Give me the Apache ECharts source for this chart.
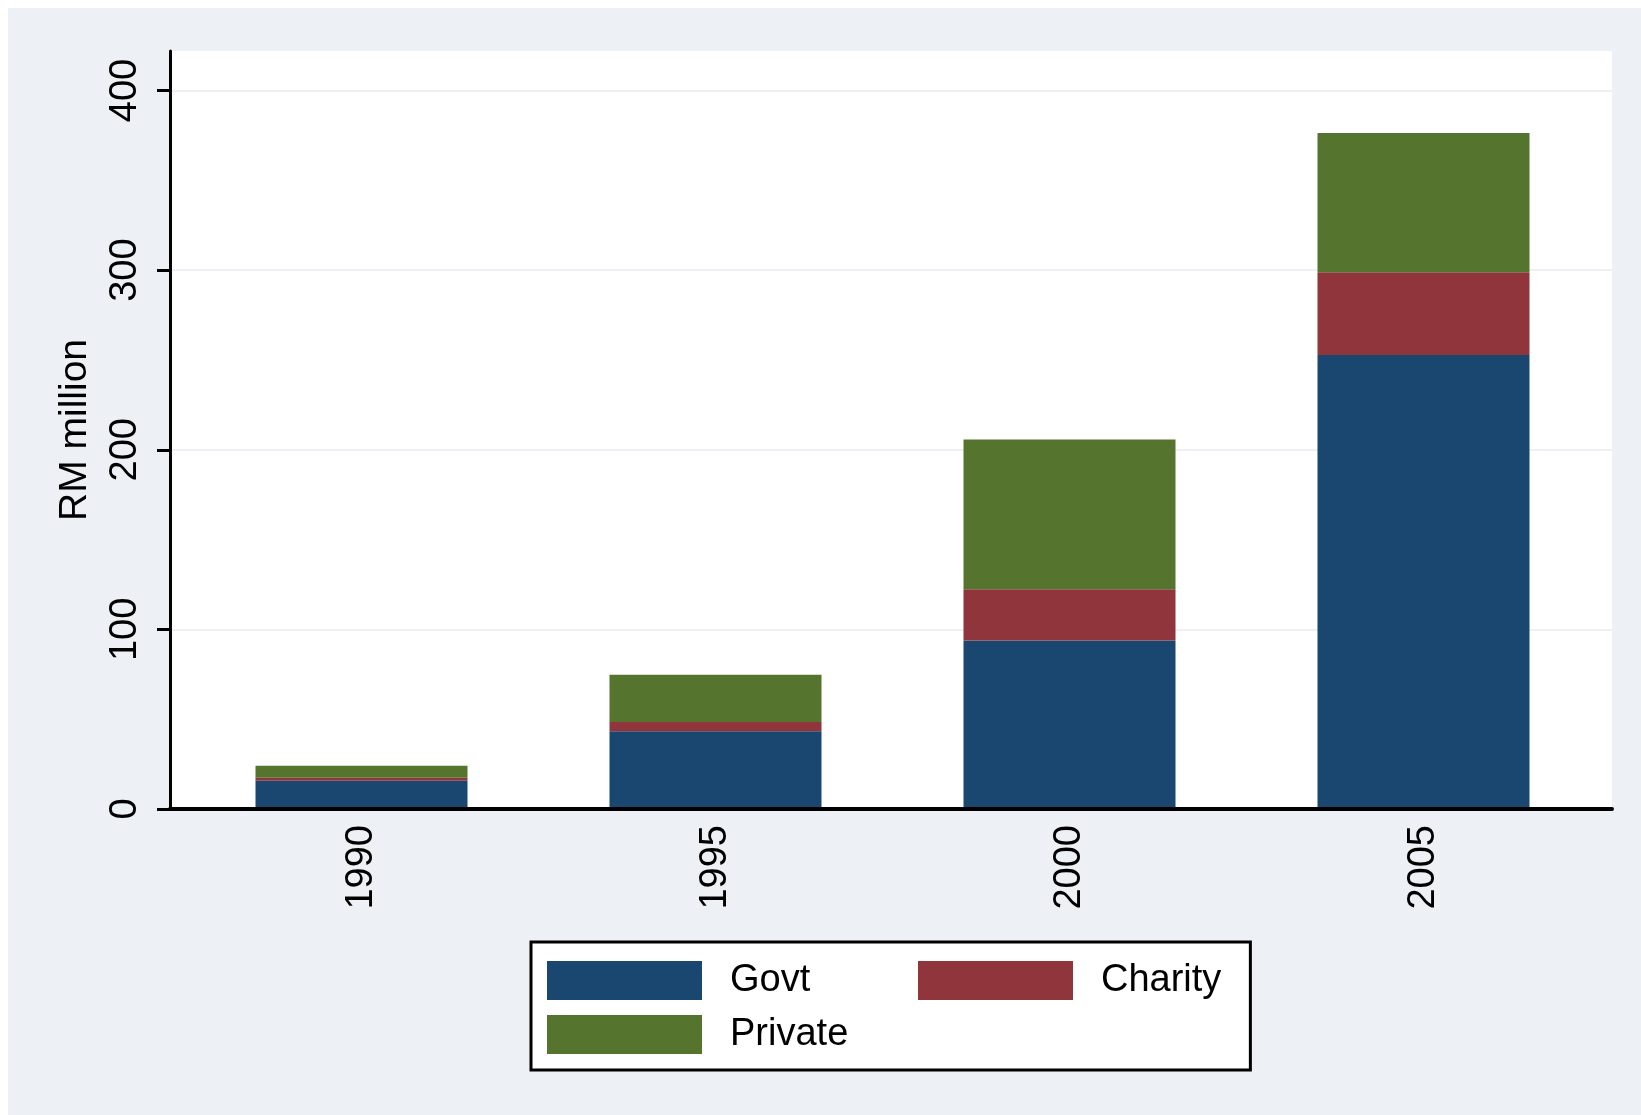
<!DOCTYPE html>
<html>
<head>
<meta charset="utf-8">
<script src="https://cdn.jsdelivr.net/npm/echarts@6/dist/echarts.min.js"></script>
<style>
	html, body { margin: 0; padding: 0; background: #fff; }
	#chartArea { position: absolute; left: 8px; top: 8px; width: 1633px; height: 1107px; }
</style>
</head>
<body>
<div id="chartArea"></div>
<script>
	// RM million by source of funds
	const years = ['1990', '1995', '2000', '2005'];
	const govt = [15.7, 43.3, 93.8, 252.8];
	const charity = [1.7, 5.2, 28.6, 46.0];
	const privateFunds = [6.7, 26.2, 83.3, 77.5];
	const yTicks = [0, 100, 200, 300, 400];

	const font = 'Liberation Sans, Arial, sans-serif';
	const bgColor = '#edf1f6';
	const yMax = 422;

	const myChart = echarts.init(document.getElementById('chartArea'));

	const barSeries = (name, data, color) => ({
		name: name,
		type: 'bar',
		stack: 'total',
		xAxisIndex: 1,
		yAxisIndex: 1,
		barWidth: 212,
		data: data,
		itemStyle: { color: color },
		emphasis: { disabled: true },
	});

	const chartOption = {
		backgroundColor: bgColor,
		animation: false,
		textStyle: { fontFamily: font },
		grid: [
			// white plot region, carries the visible axes
			{ left: 162, right: 29, top: 43, bottom: 306, show: true, backgroundColor: '#fff', borderWidth: 0, outerBoundsMode: 'none' },
			// bars
			{ left: 176.5, right: 40.5, top: 43, bottom: 306, outerBoundsMode: 'none' },
		],
		legend: {
			left: 523,
			top: 934,
			width: 700,
			orient: 'horizontal',
			icon: 'rect',
			itemWidth: 155,
			itemHeight: 39,
			itemGap: 15,
			padding: [19, 29, 16, 16],
			backgroundColor: '#fff',
			borderColor: '#000',
			borderWidth: 3,
			borderRadius: 0,
			selectedMode: false,
			textStyle: { fontSize: 38, color: '#000', fontFamily: font, lineHeight: 39, padding: [0, 0, 0, 23] },
			data: [
				{ name: 'Govt', textStyle: { width: 173 } },
				{ name: 'Charity' },
				{ name: 'Private' },
			],
		},
		xAxis: [
			{
				type: 'category',
				gridIndex: 0,
				data: years,
				z: 5,
				axisLine: { show: true, lineStyle: { color: '#000', width: 4 } },
				axisTick: { show: false },
				axisLabel: { show: false },
				splitLine: { show: false },
			},
			{
				type: 'category',
				gridIndex: 1,
				data: years,
				axisLine: { show: false },
				axisTick: { show: false },
				axisLabel: { rotate: 90, margin: 16, fontSize: 38, color: '#000', fontFamily: font },
				splitLine: { show: false },
			},
		],
		yAxis: [
			{
				type: 'value',
				gridIndex: 0,
				min: 0,
				max: yMax,
				interval: 100,
				name: 'RM million',
				nameLocation: 'middle',
				nameGap: 75,
				nameMoveOverlap: false,
				nameTextStyle: { fontSize: 39, color: '#000', fontFamily: font },
				axisLine: { show: true, lineStyle: { color: '#000', width: 3 } },
				axisTick: { show: true, length: 13, customValues: yTicks, lineStyle: { color: '#000', width: 3 } },
				axisLabel: { rotate: 90, margin: 25, fontSize: 38, color: '#000', fontFamily: font, customValues: yTicks },
				splitLine: { show: true, lineStyle: { color: bgColor, width: 2 } },
			},
			{
				type: 'value',
				gridIndex: 1,
				min: 0,
				max: yMax,
				show: false,
			},
		],
		series: [
			barSeries('Govt', govt, '#1a476f'),
			barSeries('Charity', charity, '#90353b'),
			barSeries('Private', privateFunds, '#55752f'),
		],
	};

	myChart.setOption(chartOption);
</script>
</body>
</html>
